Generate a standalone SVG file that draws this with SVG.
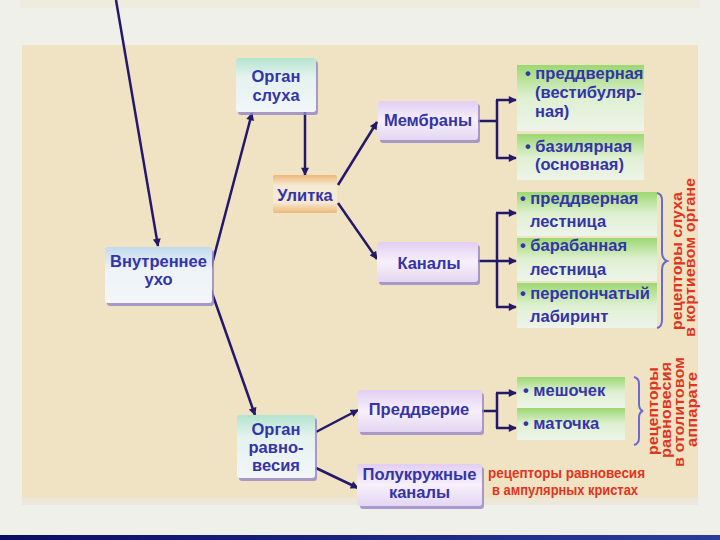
<svg xmlns="http://www.w3.org/2000/svg" width="720" height="540" viewBox="0 0 720 540">
<defs>
<linearGradient id="gTeal" x1="0" y1="0" x2="0" y2="1"><stop offset="0" stop-color="#b4e4cf"/><stop offset="0.35" stop-color="#e4f2ee"/><stop offset="1" stop-color="#f2f6f8"/></linearGradient>
<linearGradient id="gBlue" x1="0" y1="0" x2="0" y2="1"><stop offset="0" stop-color="#c2daee"/><stop offset="0.4" stop-color="#edf3f8"/><stop offset="1" stop-color="#f4f6f8"/></linearGradient>
<linearGradient id="gLav" x1="0" y1="0" x2="0" y2="1"><stop offset="0" stop-color="#e2cef2"/><stop offset="0.5" stop-color="#f6f0fa"/><stop offset="1" stop-color="#e4d6f2"/></linearGradient>
<linearGradient id="gGreen" x1="0" y1="0" x2="0" y2="1"><stop offset="0" stop-color="#9cd872"/><stop offset="0.5" stop-color="#dff0d2"/><stop offset="1" stop-color="#eef4ea"/></linearGradient>
<linearGradient id="gOrange" x1="0" y1="0" x2="0" y2="1"><stop offset="0" stop-color="#ecb878"/><stop offset="0.28" stop-color="#f6ead4"/><stop offset="0.72" stop-color="#f6ead4"/><stop offset="1" stop-color="#ecb878"/></linearGradient>
<linearGradient id="gBar" x1="0" y1="0" x2="1" y2="0"><stop offset="0" stop-color="#0c0c66"/><stop offset="1" stop-color="#2a3c9c"/></linearGradient>
<marker id="arr" viewBox="0 0 10 10" refX="9" refY="5" markerWidth="9" markerHeight="8" markerUnits="userSpaceOnUse" orient="auto"><path d="M0,0 L10,5 L0,10 z" fill="#24186a"/></marker>
<style>
.ln{stroke:#24186a;stroke-width:2.5;fill:none}
.lbl{font-family:"Liberation Sans",Arial,sans-serif;font-weight:bold;font-size:16.5px;fill:#3434a8}
.mid{text-anchor:middle}
.red{font-family:"Liberation Sans",Arial,sans-serif;font-weight:bold;fill:#e0341e}
.shd{fill:#9684c8;opacity:0.8}
.brace{stroke:#6a6ad0;stroke-width:2;fill:none}
</style>
</defs>
<rect x="0" y="0" width="720" height="540" fill="#eef0e9"/>
<rect x="20" y="0" width="680" height="8" fill="#eeebdf"/>
<rect x="22" y="45" width="676" height="453" fill="#f0e3c3"/>
<rect x="22" y="498" width="676" height="7" fill="#ece7d9"/>
<rect x="0" y="535" width="720" height="5" fill="url(#gBar)"/>

<g id="connectors">
<line class="ln" x1="116" y1="0" x2="158" y2="246" marker-end="url(#arr)"/>
<line class="ln" x1="211" y1="268" x2="252" y2="113" marker-end="url(#arr)"/>
<line class="ln" x1="211" y1="290" x2="255" y2="415" marker-end="url(#arr)"/>
<line class="ln" x1="305" y1="112" x2="305" y2="175" marker-end="url(#arr)"/>
<line class="ln" x1="338" y1="185" x2="377" y2="122" marker-end="url(#arr)"/>
<line class="ln" x1="338" y1="203" x2="377" y2="259" marker-end="url(#arr)"/>
<line class="ln" x1="316" y1="432" x2="358" y2="410" marker-end="url(#arr)"/>
<line class="ln" x1="316" y1="468" x2="358" y2="488" marker-end="url(#arr)"/>
<path class="ln" d="M478,121 H497 M497,100 V158"/>
<line class="ln" x1="496" y1="100" x2="516" y2="100" marker-end="url(#arr)"/>
<line class="ln" x1="496" y1="158" x2="516" y2="158" marker-end="url(#arr)"/>
<path class="ln" d="M478,261 H497 M497,213 V307"/>
<line class="ln" x1="496" y1="213" x2="516" y2="213" marker-end="url(#arr)"/>
<line class="ln" x1="496" y1="261" x2="516" y2="261" marker-end="url(#arr)"/>
<line class="ln" x1="496" y1="307" x2="516" y2="307" marker-end="url(#arr)"/>
<path class="ln" d="M482,411 H497 M497,393 V428"/>
<line class="ln" x1="496" y1="393" x2="516" y2="393" marker-end="url(#arr)"/>
<line class="ln" x1="496" y1="428" x2="516" y2="428" marker-end="url(#arr)"/>
</g>

<g id="n-organ-sluha">
<rect class="shd" x="238" y="61" width="80" height="54" rx="3"/>
<rect x="236" y="58" width="80" height="54" rx="3" fill="url(#gTeal)"/>
<text class="lbl mid" x="276" y="82">Орган</text>
<text class="lbl mid" x="276" y="101">слуха</text>
</g>

<g id="n-ulitka">
<rect x="273" y="175" width="64" height="38" rx="2" fill="url(#gOrange)"/>
<text class="lbl mid" x="305" y="201">Улитка</text>
</g>

<g id="n-vnutrennee">
<rect class="shd" x="107" y="250" width="107" height="56" rx="3"/>
<rect x="105" y="247" width="107" height="56" rx="3" fill="url(#gBlue)"/>
<text class="lbl mid" x="158.5" y="267">Внутреннее</text>
<text class="lbl mid" x="158.5" y="285">ухо</text>
</g>

<g id="n-organ-ravn">
<rect class="shd" x="239" y="418" width="78" height="63" rx="3"/>
<rect x="237" y="415" width="78" height="63" rx="3" fill="url(#gTeal)"/>
<text class="lbl mid" x="276" y="435">Орган</text>
<text class="lbl mid" x="276" y="453">равно-</text>
<text class="lbl mid" x="276" y="471">весия</text>
</g>

<g id="n-membrany">
<rect class="shd" x="380" y="104" width="100" height="39" rx="3"/>
<rect x="378" y="101" width="100" height="39" rx="3" fill="url(#gLav)"/>
<text class="lbl mid" x="428" y="126">Мембраны</text>
</g>

<g id="n-kanaly">
<rect class="shd" x="379" y="245" width="101" height="40" rx="3"/>
<rect x="377" y="242" width="101" height="40" rx="3" fill="url(#gLav)"/>
<text class="lbl mid" x="429" y="269">Каналы</text>
</g>

<g id="n-preddverie">
<rect class="shd" x="360" y="393" width="124" height="42" rx="3"/>
<rect x="358" y="390" width="124" height="42" rx="3" fill="url(#gLav)"/>
<text class="lbl mid" x="419" y="415">Преддверие</text>
</g>

<g id="n-polukr">
<rect class="shd" x="360" y="467" width="124" height="42" rx="3"/>
<rect x="357" y="464" width="125" height="42" rx="3" fill="url(#gLav)"/>
<text class="lbl mid" x="419.5" y="480" font-size="15" textLength="114" lengthAdjust="spacingAndGlyphs">Полукружные</text>
<text class="lbl mid" x="419.5" y="498" font-size="15">каналы</text>
</g>

<g id="n-g1">
<rect x="517" y="65" width="127" height="66" fill="url(#gGreen)"/>
<text class="lbl" x="525" y="79">• преддверная</text>
<text class="lbl" x="535" y="98">(вестибуляр-</text>
<text class="lbl" x="535" y="117">ная)</text>
</g>
<g id="n-g2">
<rect x="517" y="134" width="127" height="46" fill="url(#gGreen)"/>
<text class="lbl" x="525" y="152">• базилярная</text>
<text class="lbl" x="535" y="170">(основная)</text>
</g>
<g id="n-g3">
<rect x="517" y="192" width="140" height="44" fill="url(#gGreen)"/>
<text class="lbl" x="520" y="204">• преддверная</text>
<text class="lbl" x="530" y="227">лестница</text>
</g>
<g id="n-g4">
<rect x="517" y="238" width="140" height="43" fill="url(#gGreen)"/>
<text class="lbl" x="520" y="251">• барабанная</text>
<text class="lbl" x="530" y="275">лестница</text>
</g>
<g id="n-g5">
<rect x="517" y="283" width="140" height="45" fill="url(#gGreen)"/>
<text class="lbl" x="520" y="299">• перепончатый</text>
<text class="lbl" x="530" y="322">лабиринт</text>
</g>
<g id="n-g6">
<rect x="517" y="377" width="108" height="31" fill="url(#gGreen)"/>
<text class="lbl" x="523" y="396">• мешочек</text>
</g>
<g id="n-g7">
<rect x="517" y="408" width="108" height="32" fill="url(#gGreen)"/>
<text class="lbl" x="523" y="429">• маточка</text>
</g>

<g id="braces">
<path class="brace" d="M657,193 Q662,194 662,200 V252 Q662,259 667,261 Q662,263 662,270 V320 Q662,327 657,328"/>
<path class="brace" d="M634,377 Q639,378 639,384 V404 Q639,410 643,411 Q639,412 639,418 V438 Q639,444 634,445"/>
</g>

<g id="notes">
<text class="red" font-size="15" transform="translate(682,261) rotate(-90)" text-anchor="middle" textLength="138" lengthAdjust="spacingAndGlyphs">рецепторы слуха</text>
<text class="red" font-size="15" transform="translate(695,257.5) rotate(-90)" text-anchor="middle" textLength="159" lengthAdjust="spacingAndGlyphs">в кортиевом органе</text>
<text class="red" font-size="15" transform="translate(658,411) rotate(-90)" text-anchor="middle" textLength="88" lengthAdjust="spacingAndGlyphs">рецепторы</text>
<text class="red" font-size="15" transform="translate(671,410) rotate(-90)" text-anchor="middle" textLength="96" lengthAdjust="spacingAndGlyphs">равновесия</text>
<text class="red" font-size="15" transform="translate(684,412) rotate(-90)" text-anchor="middle" textLength="110" lengthAdjust="spacingAndGlyphs">в отолитовом</text>
<text class="red" font-size="15" transform="translate(697,409.5) rotate(-90)" text-anchor="middle" textLength="75" lengthAdjust="spacingAndGlyphs">аппарате</text>
<text class="red" font-size="15" x="488" y="478" textLength="157" lengthAdjust="spacingAndGlyphs">рецепторы равновесия</text>
<text class="red" font-size="15" x="492" y="495" textLength="146" lengthAdjust="spacingAndGlyphs">в ампулярных кристах</text>
</g>
</svg>
